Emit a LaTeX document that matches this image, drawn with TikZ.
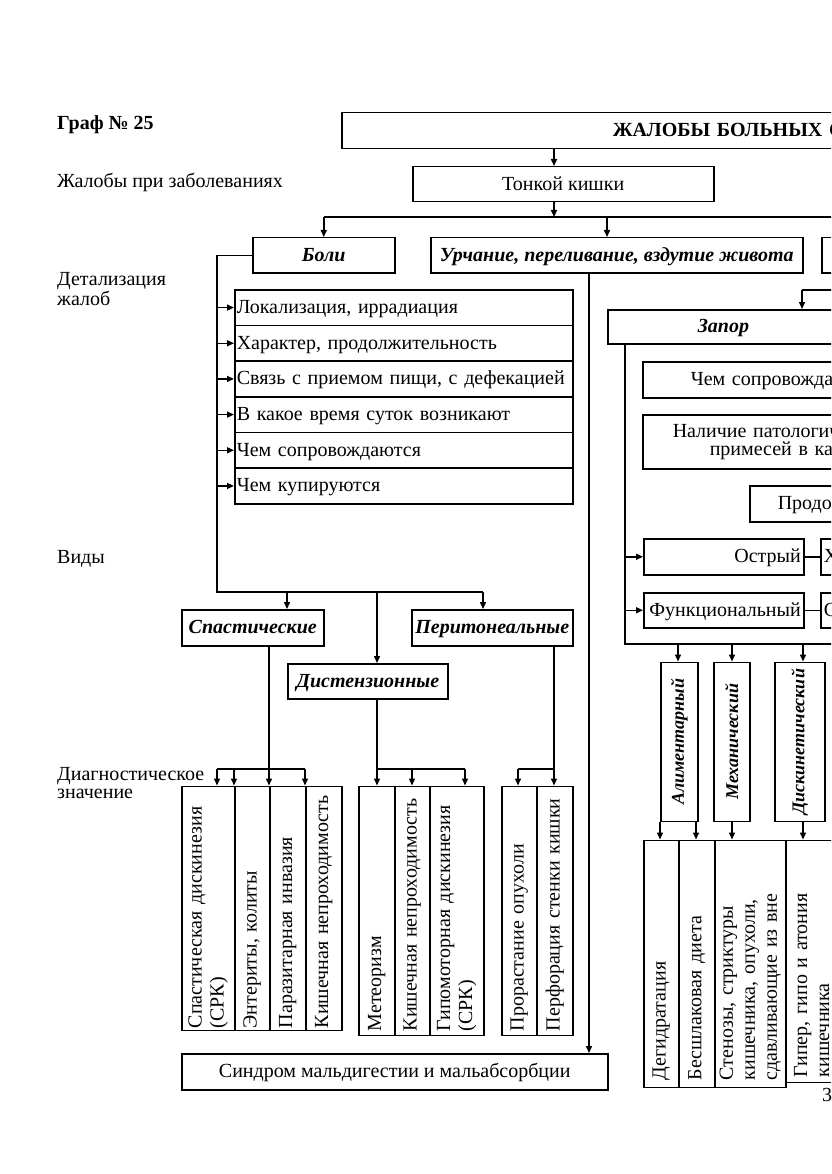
\documentclass[tikz,border=0pt]{standalone}
\usepackage{fontspec}
\setmainfont{Liberation Serif}
\usetikzlibrary{arrows.meta}
\newcommand{\fsz}{\fontsize{20}{18}\selectfont}
\newcommand{\fszv}{\fontsize{20}{22}\selectfont}
\tikzset{
  ln/.style={line width=1.5pt},
  arr/.style={ln,-{Triangle[length=7pt,width=6pt]}},
  box/.style={draw,line width=1.5pt,inner sep=0pt,anchor=north west,font=\fsz},
  sbox/.style={box,text height=15pt,text depth=3pt},
  hd/.style={sbox,font=\fsz\bfseries\itshape},
  cbox/.style={sbox,align=left,text width=260pt},
  row/.style={sbox,align=left,text width=334pt,inner xsep=2pt,minimum height=35.67pt},
  vcol/.style={box,rotate=90,align=left,font=\fszv},
  vhd/.style={box,rotate=90,font=\fontsize{18}{20}\selectfont\bfseries\itshape,minimum width=159pt},
  lbl/.style={inner sep=0pt,font=\fsz},
}
\begin{document}
\begin{tikzpicture}[x=1pt,y=-1pt]
\useasboundingbox (0,0) rectangle (831,1174);
\fill[white] (0,0) rectangle (831,1174);
\clip (0,0) rectangle (831,1174);
% level captions on the left
\node[lbl,font=\fsz\bfseries,anchor=base west] (graf) at (57,130) {Граф № 25};
\node[lbl,anchor=base west] (lzh) at (57,188) {Жалобы при заболеваниях};
\node[lbl,anchor=west,align=left] (ldet) at (57,289) {Детализация\\жалоб};
\node[lbl,anchor=base west] (lvid) at (57,563) {Виды};
\node[lbl,anchor=west,align=left] (ldia) at (57,783) {Диагностическое\\значение};

% upper boxes (cut by the page edge on the right)
\node[cbox,font=\fsz\bfseries,inner xsep=271pt,minimum height=36pt] (top) at (341,112) {ЖАЛОБЫ БОЛЬНЫХ С};
\node[sbox,minimum width=301pt,minimum height=35pt] (tonk) at (412,166) {Тонкой кишки};
\node[hd,minimum width=142pt,minimum height=35pt] (boli) at (252,237) {Боли};
\node[hd,minimum width=372pt,minimum height=35pt] (urch) at (430,237) {Урчание, переливание, вздутие живота};
\node[box,minimum width=60pt,minimum height=35pt] (rb) at (821,237) {};

\coordinate (ka) at (554,148);
\coordinate (bus) at (0,217);
\coordinate (busE) at (850,217);
\coordinate (ku) at (607,217);
\draw[arr] (ka |- top.south) -- (ka |- tonk.north);
\draw[arr] (ka |- tonk.south) -- (ka |- bus);
\draw[ln] (boli.north |- bus) -- (busE);
\draw[arr] (boli.north |- bus) -- (boli.north);
\draw[arr] (ku) -- (ku |- urch.north);

% pain: details
\coordinate (bl) at (217,592);
\foreach \i/\txt in {1/{Локализация, иррадиация},2/{Характер, продолжительность},
  3/{Связь с приемом пищи, с дефекацией},4/{В какое время суток возникают},
  5/{Чем сопровождаются},6/{Чем купируются}}{
  \node[row] (q\i) at (234,{289+(\i-1)*35.67}) {\txt};
  \draw[arr] (bl |- q\i.west) -- (q\i.west);
}

% pain: kinds
\node[hd,minimum width=142pt,minimum height=36pt] (spast) at (181,609) {Спастические};
\node[hd,minimum width=161pt,minimum height=36pt] (perit) at (411,609) {Перитонеальные};
\node[hd,minimum width=160pt,minimum height=35pt] (dist) at (287,663) {Дистензионные};
\coordinate (ks) at (287,592);
\coordinate (kd) at (377,592);
\coordinate (kp) at (483,592);
\draw[ln] (boli.west) -| (bl) -- (kp);
\draw[arr] (ks) -- (ks |- spast.north);
\draw[arr] (kd) -- (kd |- dist.north);
\draw[arr] (kp) -- (kp |- perit.north);

% diagnostic value columns
\foreach \nm/\xl/\w/\txt in {d1/181/53/{Спастическая дискинезия\\(СРК)},d2/234/35/{Энтериты, колиты},
  d3/269/36/{Паразитарная инвазия},d4/305/36/{Кишечная непроходимость}}
  \node[vcol,text width=240pt,inner xsep=2pt,minimum height=\w] (\nm) at (\xl,1031) {\txt};
\foreach \nm/\xl/\w/\txt in {m1/358/36/{Метеоризм},m2/394/35/{Кишечная непроходимость},
  m3/429/54/{Гипомоторная дискинезия\\(СРК)},p1/501/35/{Прорастание опухоли},
  p2/536/36/{Перфорация стенки кишки}}
  \node[vcol,text width=241pt,inner xsep=4pt,minimum height=\w] (\nm) at (\xl,1036) {\txt};

\coordinate (s0) at (269,0);
\coordinate (e0) at (554,0);
\draw[arr] (s0 |- spast.south) -- (s0 |- d1.east);
\draw[arr] (kd |- dist.south) -- (kd |- m1.east);
\draw[arr] (e0 |- perit.south) -- (e0 |- p1.east);
\draw[ln] (217,769) coordinate (h1) -- (305,769);
\draw[ln] (377,769) -- (465,769);
\draw[ln] (518,769) -- (554,769);
\foreach \x in {217,234,305,412,465,518}{
  \coordinate (t) at (\x,769);
  \draw[arr] (t) -- (t |- d1.east);
}

% rumbling: malabsorption
\node[sbox,minimum width=426pt,minimum height=36pt] (sind) at (181,1053) {Синдром мальдигестии и мальабсорбции};
\coordinate (u0) at (589,0);
\draw[arr] (u0 |- urch.south) -- (u0 |- sind.north);

% constipation
\node[cbox,font=\fsz\bfseries\itshape,inner xsep=90pt,minimum height=34pt] (zap) at (607,309) {Запор};
\node[cbox,inner xsep=48pt,minimum height=36pt] (chem) at (642,361) {Чем сопровождае};
\node[box,align=left,text width=260pt,inner xsep=30pt,minimum height=54pt] (nal) at (642,414) {Наличие патологич\\\hspace*{37pt}примесей в кал};
\node[cbox,inner xsep=28pt,minimum height=36pt] (prod) at (749,485) {Продо};
\node[sbox,align=right,text width=154pt,inner xsep=3pt,minimum height=36pt] (ostr) at (643,538) {Острый};
\node[sbox,align=right,text width=154pt,inner xsep=3pt,minimum height=35pt] (func) at (643,592) {Функциональный};
\node[cbox,inner xsep=3pt,minimum height=36pt] (xb) at (820,538) {Х};
\node[cbox,inner xsep=3pt,minimum height=35pt] (cb) at (820,592) {С};

\coordinate (zin) at (850,290);
\coordinate (z0) at (802,290);
\coordinate (fl) at (625,644);
\coordinate (fr) at (850,644);
\draw[ln] (zin) -- (z0);
\draw[arr] (z0) -- (z0 |- zap.north);
\draw[ln] (fl |- zap.south) -- (fl) -- (fr);
\draw[arr] (fl |- ostr.west) -- (ostr.west);
\draw[arr] (fl |- func.west) -- (func.west);
\draw[ln] (ostr.east) -- (xb.west);
\draw[ln] (func.east) -- (cb.west);

\foreach \nm/\xl/\w/\txt in {alim/660/37/Алиментарный,mech/713/36/Механический,disk/774/50/Дискинетический}
  \node[vhd,minimum height=\w] (\nm) at (\xl,822) {\txt};
\foreach \nm/\xl/\w/\txt in {r1/643/35/{Дегидратация},r2/678/36/{Бесшлаковая диета},
  r3/714/71/{Стенозы, стриктуры\\кишечника, опухоли,\\сдавливающие из вне}}
  \node[vcol,text width=233pt,inner xsep=7pt,minimum height=\w] (\nm) at (\xl,1088) {\txt};
\node[vcol,text width=232pt,inner xsep=5pt,minimum height=52] (r4) at (785,1083) {Гипер, гипо и атония\\кишечника};

\foreach \x/\nm in {678/alim,732/mech,803/disk}{
  \coordinate (t) at (\x,644);
  \draw[arr] (t) -- (t |- \nm.east);
}
\foreach \x in {660,696,732,803}{
  \coordinate (t) at (\x,822);
  \draw[arr] (t) -- (t |- r1.east);
}
\node[lbl,anchor=west] (pg) at (822,1095) {3};
\end{tikzpicture}
\end{document}
